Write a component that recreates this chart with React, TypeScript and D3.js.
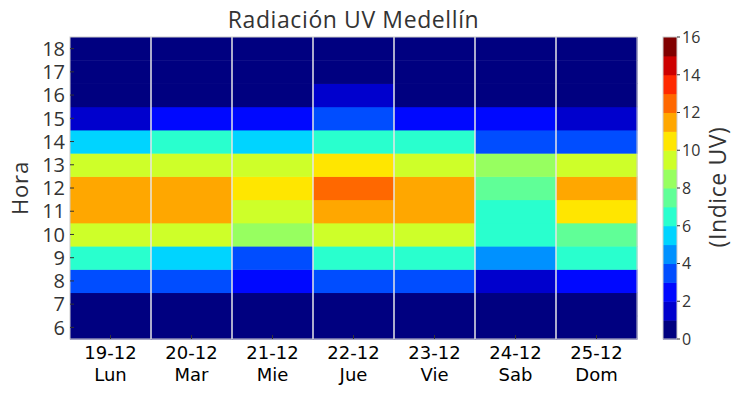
import * as d3 from "d3";

const days = ["19-12", "20-12", "21-12", "22-12", "23-12", "24-12", "25-12"];
const weekdays = ["Lun", "Mar", "Mie", "Jue", "Vie", "Sab", "Dom"];
const hours = [6, 7, 8, 9, 10, 11, 12, 13, 14, 15, 16, 17, 18];

// UV index per day, hours 6..18
const uvLun = [0, 0, 3, 6, 9, 11, 11, 9, 5, 1, 0, 0, 0];
const uvMar = [0, 0, 3, 5, 9, 11, 11, 9, 6, 2, 0, 0, 0];
const uvMie = [0, 0, 2, 3, 8, 9, 10, 9, 5, 2, 0, 0, 0];
const uvJue = [0, 0, 3, 6, 9, 11, 12, 10, 6, 3, 1, 0, 0];
const uvVie = [0, 0, 3, 6, 9, 11, 11, 9, 6, 2, 0, 0, 0];
const uvSab = [0, 0, 1, 4, 6, 6, 7, 8, 3, 2, 0, 0, 0];
const uvDom = [0, 0, 2, 6, 7, 10, 11, 9, 3, 1, 0, 0, 0];
const uvByDay = [uvLun, uvMar, uvMie, uvJue, uvVie, uvSab, uvDom];

const cbTicks = [0, 2, 4, 6, 8, 10, 12, 14, 16];
const nLevels = 16;

// matplotlib "jet" colormap
function jet(x: number) {
  const seg = (pts: number[][]) => {
    for (let i = 1; i < pts.length; i++) {
      if (x <= pts[i][0]) {
        const [x0, y0] = pts[i - 1];
        const [x1, y1] = pts[i];
        return y0 + ((y1 - y0) * (x - x0)) / (x1 - x0);
      }
    }
    return pts[pts.length - 1][1];
  };
  const r = seg([[0, 0], [0.35, 0], [0.66, 1], [0.89, 1], [1, 0.5]]);
  const g = seg([[0, 0], [0.125, 0], [0.375, 1], [0.64, 1], [0.91, 0], [1, 0]]);
  const b = seg([[0, 0.5], [0.11, 1], [0.34, 1], [0.65, 0], [1, 0]]);
  return d3.rgb(r * 255, g * 255, b * 255).formatHex();
}

const levelColors = d3.range(nLevels).map((i) => jet(i / (nLevels - 1)));
const color = (v: number) =>
  levelColors[Math.max(0, Math.min(nLevels - 1, Math.floor(v)))];

export default function App() {
  const W = 743;
  const H = 395;
  const m = { left: 70, right: 637, top: 37, bottom: 339 };

  const x = d3.scaleBand<number>().domain(d3.range(days.length)).range([m.left, m.right]);
  const y = d3
    .scaleBand<number>()
    .domain([...hours].reverse())
    .range([m.top, m.bottom]);

  const cb = { x: 663, w: 14 };
  const cy = d3.scaleLinear().domain([0, 16]).range([m.bottom, m.top]);

  const textColor = "#333";
  const sans = "'Open Sans', sans-serif";
  const dejavu = "'DejaVu Sans', sans-serif";

  return (
    <svg
      width={W}
      height={H}
      style={{ position: "absolute", left: 0, top: 0, background: "#fff" }}
    >
      <text
        x={(m.left + m.right) / 2}
        y={28}
        textAnchor="middle"
        fontFamily={sans}
        fontSize={23}
        letterSpacing={0.6}
        fill={textColor}
      >
        Radiación UV Medellín
      </text>

      {/* cells */}
      {uvByDay.map((vals, di) =>
        vals.map((v, hi) => (
          <rect
            key={`${di}-${hi}`}
            x={x(di)}
            y={y(hours[hi])}
            width={x.bandwidth() + 0.5}
            height={y.bandwidth() + 0.5}
            fill={color(v)}
          />
        ))
      )}

      {/* vertical grid lines */}
      {d3.range(1, days.length).map((i) => (
        <line
          key={i}
          x1={x(i)}
          x2={x(i)}
          y1={m.top}
          y2={m.bottom}
          stroke="#e6e6e6"
          strokeWidth={1.5}
        />
      ))}

      <rect
        x={m.left}
        y={m.top}
        width={m.right - m.left}
        height={m.bottom - m.top}
        fill="none"
        stroke="#cccccc"
        strokeWidth={1}
      />

      {/* y axis */}
      {hours.map((h) => {
        const yc = (y(h) as number) + y.bandwidth() / 2;
        return (
          <g key={h}>
            <line x1={m.left} x2={m.left + 4} y1={yc} y2={yc} stroke="#333" strokeWidth={1} />
            <text
              x={m.left - 5}
              y={yc}
              dy="0.36em"
              textAnchor="end"
              fontFamily={sans}
              fontSize={20}
              fill={textColor}
            >
              {h}
            </text>
          </g>
        );
      })}
      <text
        transform={`translate(28,${(m.top + m.bottom) / 2}) rotate(-90)`}
        textAnchor="middle"
        fontFamily={sans}
        fontSize={22}
        letterSpacing={0.8}
        fill={textColor}
      >
        Hora
      </text>

      {/* x axis */}
      {days.map((d, i) => {
        const xc = (x(i) as number) + x.bandwidth() / 2;
        return (
          <g key={d}>
            <line x1={xc} x2={xc} y1={m.bottom} y2={m.bottom - 4} stroke="#333" strokeWidth={1} />
            <text x={xc} y={359} textAnchor="middle" fontFamily={dejavu} fontWeight="normal" fontSize={18} fill="#000">
              {d}
            </text>
            <text x={xc} y={381} textAnchor="middle" fontFamily={dejavu} fontWeight="normal" fontSize={18} fill="#000">
              {weekdays[i]}
            </text>
          </g>
        );
      })}

      {/* colorbar */}
      {levelColors.map((c, i) => (
        <rect
          key={i}
          x={cb.x}
          y={cy(i + 1)}
          width={cb.w}
          height={cy(i) - cy(i + 1) + 0.5}
          fill={c}
        />
      ))}
      <rect
        x={cb.x}
        y={m.top}
        width={cb.w}
        height={m.bottom - m.top}
        fill="none"
        stroke="#cccccc"
        strokeWidth={1}
      />
      {cbTicks.map((t) => (
        <g key={t}>
          <line
            x1={cb.x + cb.w}
            x2={cb.x + cb.w + 3}
            y1={cy(t)}
            y2={cy(t)}
            stroke="#333"
            strokeWidth={1}
          />
          <text
            x={cb.x + cb.w + 5}
            y={cy(t)}
            dy="0.36em"
            fontFamily={sans}
            fontSize={16}
            fill={textColor}
          >
            {t}
          </text>
        </g>
      ))}
      <text
        transform={`translate(726,187) rotate(-90)`}
        textAnchor="middle"
        fontFamily={sans}
        fontSize={23}
        letterSpacing={0.6}
        fill={textColor}
      >
        (Indice UV)
      </text>
    </svg>
  );
}
